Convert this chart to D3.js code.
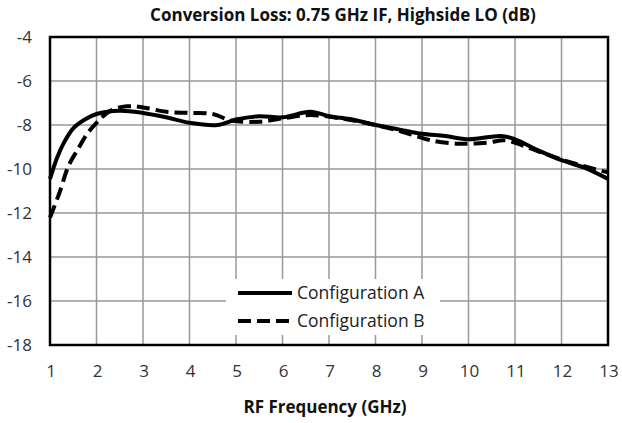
<!DOCTYPE html>
<html>
<head>
<meta charset="utf-8">
<title>Conversion Loss</title>
<script src="https://d3js.org/d3.v7.min.js"></script>
<style>
  body { margin: 0; background: #fff; }
  text { font-family: "Open Sans", sans-serif; fill: #222; }
</style>
</head>
<body>
<script>
// data
var freqA = [1, 1.15, 1.3, 1.5, 1.75, 2, 2.5, 3, 3.5, 4, 4.6, 5, 5.5, 6, 6.6, 7, 7.5, 8, 8.5, 9, 9.5, 10, 10.7, 11, 11.5, 12, 12.5, 13];
var lossA = [-10.45, -9.5, -8.8, -8.15, -7.75, -7.5, -7.35, -7.45, -7.65, -7.9, -8.0, -7.75, -7.6, -7.65, -7.4, -7.6, -7.75, -8.0, -8.2, -8.4, -8.5, -8.65, -8.5, -8.65, -9.15, -9.6, -9.95, -10.45];

var freqB = [1, 1.2, 1.4, 1.6, 1.8, 2, 2.3, 2.65, 3, 3.5, 4, 4.5, 4.9, 5.5, 6, 6.6, 7.4, 8, 8.4, 8.8, 9.2, 9.8, 10.4, 10.8, 11.25, 11.7, 12.2, 12.8, 13];
var lossB = [-12.2, -11.1, -9.85, -9.1, -8.4, -7.9, -7.35, -7.15, -7.2, -7.4, -7.45, -7.5, -7.8, -7.85, -7.7, -7.55, -7.75, -8.0, -8.2, -8.45, -8.7, -8.85, -8.8, -8.7, -9.0, -9.35, -9.7, -10.05, -10.15];

var seriesNames = ["Configuration A", "Configuration B"];
var xTicks = [1, 2, 3, 4, 5, 6, 7, 8, 9, 10, 11, 12, 13];
var yTicks = [-4, -6, -8, -10, -12, -14, -16, -18];

var W = 622, H = 423;
var svg = d3.select("body").append("svg")
  .attr("width", W)
  .attr("height", H);

var x = d3.scaleLinear().domain([1, 13]).range([50, 608]);
var y = d3.scaleLinear().domain([-18, -4]).range([345, 37]);

// grid
svg.append("g").selectAll("line").data(xTicks.slice(1, -1)).enter().append("line")
  .attr("x1", d => x(d)).attr("x2", d => x(d))
  .attr("y1", y(-4)).attr("y2", y(-18))
  .attr("stroke", "#999").attr("stroke-width", 1.5);
svg.append("g").selectAll("line").data(yTicks.slice(1, -1)).enter().append("line")
  .attr("x1", x(1)).attr("x2", x(13))
  .attr("y1", d => y(d)).attr("y2", d => y(d))
  .attr("stroke", "#999").attr("stroke-width", 1.5);

// tick labels
svg.append("g").selectAll("text").data(yTicks).enter().append("text")
  .attr("x", 32).attr("y", d => y(d) + 6)
  .attr("text-anchor", "end")
  .style("font-size", "17px").style("fill", "#333")
  .text(d => d);
svg.append("g").selectAll("text").data(xTicks).enter().append("text")
  .attr("x", d => x(d) + 1).attr("y", 377)
  .attr("text-anchor", "middle")
  .style("font-size", "17px").style("fill", "#333")
  .text(d => d);

// lines
var line = d3.line()
  .x(d => x(d[0])).y(d => y(d[1]))
  .curve(d3.curveCatmullRom.alpha(0.5));

svg.append("path")
  .datum(d3.zip(freqA, lossA))
  .attr("d", line)
  .attr("fill", "none").attr("stroke", "#000")
  .attr("stroke-width", 4).attr("stroke-linejoin", "round");

svg.append("path")
  .datum(d3.zip(freqB, lossB))
  .attr("d", line)
  .attr("fill", "none").attr("stroke", "#000")
  .attr("stroke-width", 4)
  .attr("stroke-dasharray", "13,6");

// plot border
svg.append("rect")
  .attr("x", x(1)).attr("y", y(-4))
  .attr("width", x(13) - x(1)).attr("height", y(-18) - y(-4))
  .attr("fill", "none").attr("stroke", "#000").attr("stroke-width", 2.5);

// legend
var lg = svg.append("g");
lg.append("rect")
  .attr("x", 226).attr("y", 279).attr("width", 214).attr("height", 56)
  .attr("fill", "#fff");
var dashes = [null, "13,6"];
seriesNames.forEach(function(name, i) {
  var ly = 293 + i * 28;
  lg.append("line")
    .attr("x1", 238).attr("x2", 292)
    .attr("y1", ly).attr("y2", ly)
    .attr("stroke", "#000").attr("stroke-width", 4)
    .attr("stroke-dasharray", dashes[i]);
  lg.append("text")
    .attr("x", 297).attr("y", ly + 6)
    .style("font-size", "17.5px")
    .text(name);
});

// titles
svg.append("text")
  .attr("x", 343).attr("y", 21)
  .attr("text-anchor", "middle")
  .style("font-size", "17px").style("font-weight", "bold").style("fill", "#111")
  .text("Conversion Loss: 0.75 GHz IF, Highside LO (dB)");

svg.append("text")
  .attr("x", 325).attr("y", 413)
  .attr("text-anchor", "middle")
  .style("font-size", "17px").style("font-weight", "bold").style("fill", "#111")
  .text("RF Frequency (GHz)");
</script>
</body>
</html>
